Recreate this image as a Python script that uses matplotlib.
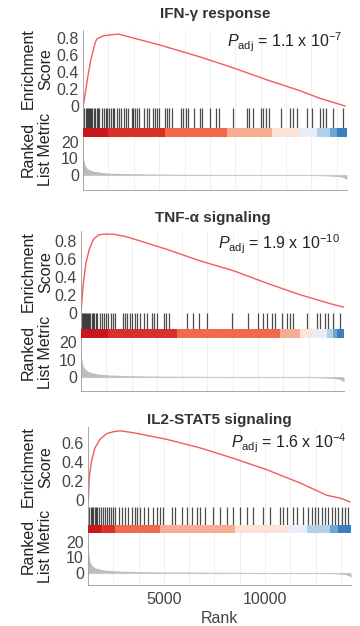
import numpy as np
import matplotlib
matplotlib.use('Agg')
import matplotlib.pyplot as plt

plt.rcParams['font.family'] = ['Liberation Sans', 'DejaVu Sans']
plt.rcParams['mathtext.fontset'] = 'custom'
plt.rcParams['mathtext.rm'] = 'Liberation Sans'
plt.rcParams['mathtext.it'] = 'Liberation Sans:italic'

# ---- data ----
titles = ['IFN-\u03b3 response', 'TNF-\u03b1 signaling', 'IL2-STAT5 signaling']
padj_mant = ['1.1', '1.9', '1.6']
padj_exp = ['-7', '-10', '-4']

# running enrichment score (rank, ES)
es1_rank = [1266, 1400, 1462, 1629, 1841, 1924, 2087, 2250, 2579, 2988, 5041, 7011, 8652, 10293, 11935, 12920, 14150]
es1_val = [0.00, 0.21, 0.31, 0.54, 0.74, 0.79, 0.81, 0.83, 0.84, 0.85, 0.72, 0.58, 0.45, 0.31, 0.18, 0.09, 0.00]
es2_rank = [1250, 1365, 1497, 1662, 1860, 2107, 2354, 2850, 3509, 5486, 7132, 8780, 10430, 12075, 13720, 14250]
es2_val = [0.00, 0.33, 0.56, 0.71, 0.82, 0.87, 0.88, 0.88, 0.85, 0.71, 0.58, 0.47, 0.33, 0.20, 0.09, 0.06]
es3_rank = [1265, 1316, 1433, 1596, 1843, 2172, 2500, 2832, 3490, 5140, 6786, 8430, 10080, 11730, 13050, 13710, 14200]
es3_val = [0.00, 0.25, 0.42, 0.55, 0.64, 0.70, 0.72, 0.73, 0.71, 0.64, 0.55, 0.44, 0.32, 0.18, 0.05, 0.02, -0.02]

# positions of gene-set members in the ranked list
hits1 = [1316, 1381, 1430, 1480, 1529, 1595, 1644, 1709, 1775, 1841, 1923, 1988, 2054, 2169, 2284,
         2382, 2448, 2530, 2628, 2711, 2793, 2940, 3022, 3104, 3268, 3367, 3482, 3646, 3728, 3810,
         3925, 4023, 4253, 4384, 4483, 4680, 4778, 4877, 4991, 5287, 5369, 5500, 5631, 6075, 6190,
         6304, 6436, 6715, 7010, 7125, 7502, 7798, 7929, 8651, 9340, 9439, 9603, 10013, 10128, 10259,
         10423, 10998, 11441, 11605, 11769, 12261, 12507, 12918, 13082, 13213, 13574, 14066]
hits2 = [1299, 1349, 1398, 1448, 1497, 1547, 1596, 1646, 1711, 1777, 1843, 1909, 1975, 2041, 2189,
         2272, 2387, 2486, 2601, 2717, 2816, 2931, 3343, 3442, 3541, 3673, 3788, 3920, 4035, 4167,
         4365, 4497, 4744, 4859, 4991, 5354, 5452, 5584, 6474, 6804, 7100, 7463, 8699, 9523, 10017,
         10264, 10429, 10677, 10842, 11171, 11418, 11583, 11748, 12407, 12901, 13066, 13313, 13478,
         13725, 14055]
hits3 = [1316, 1382, 1448, 1514, 1580, 1646, 1711, 1794, 1876, 1975, 2074, 2173, 2272, 2387, 2502,
         2601, 2799, 2931, 3079, 3244, 3409, 3574, 3689, 3821, 4019, 4233, 4480, 4645, 4810, 4942,
         5386, 5551, 5881, 6128, 6375, 6622, 6787, 7034, 7446, 7776, 8106, 8435, 8765, 9094, 9424,
         9918, 10248, 10742, 10907, 11072, 11402, 11566, 11896, 12143, 12308, 12473, 12638, 12802,
         12967, 13132, 13297, 13462, 13626, 13791, 13956, 14121]

# colour strip: segment edges (rank) and colours
band_colors = ['#c8161d', '#d9302b', '#f06a4e', '#f7ad91', '#fce3d8', '#e8edf7', '#b4d0e6', '#6ca6d4', '#3a80c0']
band1 = [1250, 2500, 5288, 8325, 10540, 11935, 12757, 13412, 13740, 14250]
band2 = [1250, 2600, 5980, 11087, 12075, 12734, 13393, 13700, 13887, 14250]
band3 = [1250, 1900, 2585, 4809, 8516, 11071, 12060, 13213, 13600, 14250]

# ranked list metric (rank, metric)
metric_rank = [1250, 1290, 1350, 1450, 1600, 1800, 2100, 2600, 3500, 5000, 8000, 11000, 13000, 13700, 14000, 14150, 14250]
metric1 = [14, 9, 6, 4, 3, 2.2, 1.6, 1.1, 0.8, 0.5, 0.3, 0.0, -0.4, -0.8, -1.2, -2.0, -3.0]
metric2 = [16, 10, 6.5, 4.5, 3.2, 2.4, 1.7, 1.2, 0.8, 0.5, 0.3, 0.0, -0.4, -0.8, -1.2, -2.0, -3.0]
metric3 = [20, 12, 7, 4.5, 3.2, 2.4, 1.7, 1.2, 0.8, 0.5, 0.3, 0.0, -0.4, -0.8, -1.2, -2.0, -3.0]

x_lim = (1250, 14250)
x_ticks = [5000, 10000]
grid_x = [2500, 3750, 5000, 6250, 7500, 8750, 10000, 11250, 12500, 13750]

# ---- layout (pixels) ----
W, H = 360, 626
fig = plt.figure(figsize=(W / 100, H / 100), dpi=100)


def box(l, t, r, b):
    return [l / W, 1 - b / H, (r - l) / W, (b - t) / H]


panels = [
    dict(title_y=14, left=83, right=347, es=(30, 108), es_ylim=(-0.024, 0.898), es_ticks=[0, 0.2, 0.4, 0.6, 0.8],
         hit=(108, 128), col=(128, 137), rk=(137, 190), rk_ylim=(-9.1, 23),
         es_r=es1_rank, es_v=es1_val, hits=hits1, band=band1, metric=metric1, padj_y=42),
    dict(title_y=218, left=81, right=344, es=(231, 313), es_ylim=(-0.005, 0.915), es_ticks=[0, 0.2, 0.4, 0.6, 0.8],
         hit=(313, 329), col=(329, 338), rk=(338, 391), rk_ylim=(-8, 22.3),
         es_r=es2_rank, es_v=es2_val, hits=hits2, band=band2, metric=metric2, padj_y=244),
    dict(title_y=420, left=88, right=351, es=(427, 507), es_ylim=(-0.074, 0.77), es_ticks=[0, 0.2, 0.4, 0.6],
         hit=(507, 525), col=(525, 533), rk=(533, 585), rk_ylim=(-7.9, 25.6),
         es_r=es3_rank, es_v=es3_val, hits=hits3, band=band3, metric=metric3, padj_y=443),
]

fs = 11.5
spine_c = '#9a9a9a'
grid_c = '#ececec'
txt_c = '#444444'

for i, p in enumerate(panels):
    L, R = p['left'], p['right']

    # enrichment score
    ax = fig.add_axes(box(L, p['es'][0], R, p['es'][1]))
    for g in grid_x:
        ax.axvline(g, color=grid_c, lw=0.6, zorder=0)
    ax.plot(p['es_r'], p['es_v'], color='#f45b5b', lw=1.0)
    ax.set_xlim(x_lim)
    ax.set_ylim(p['es_ylim'])
    ax.set_yticks(p['es_ticks'])
    ax.set_yticklabels(['0' if t == 0 else f'{t:.1f}' for t in p['es_ticks']])
    ax.set_xticks([])
    ax.tick_params(axis='y', length=0, pad=3, labelsize=fs, labelcolor=txt_c)
    for s in ['top', 'right', 'bottom']:
        ax.spines[s].set_visible(False)
    ax.spines['left'].set_color(spine_c)
    ax.spines['left'].set_linewidth(0.6)
    ax.text(0.985, (p['es'][1] - p['padj_y']) / (p['es'][1] - p['es'][0]),
            r'$P_{\rm adj}$' + f' = {padj_mant[i]} x 10' + r'$^{' + padj_exp[i] + r'}$',
            transform=ax.transAxes, ha='right', va='center', fontsize=fs, color='#222222')

    # title
    fig.text((L + R) / 2 / W, 1 - p['title_y'] / H, titles[i], ha='center', va='center',
             fontsize=11, fontweight='bold', color='#333333')

    # hits
    axh = fig.add_axes(box(L, p['hit'][0], R, p['hit'][1]))
    for g in grid_x:
        axh.axvline(g, color=grid_c, lw=0.6, zorder=0)
    axh.vlines(p['hits'], 0, 1, color='black', lw=0.9, alpha=0.7)
    axh.set_xlim(x_lim)
    axh.set_ylim(0, 1)
    axh.set_xticks([])
    axh.set_yticks([])
    for s in ['top', 'right', 'bottom']:
        axh.spines[s].set_visible(False)
    axh.spines['left'].set_color(spine_c)
    axh.spines['left'].set_linewidth(0.6)

    # colour strip
    axc = fig.add_axes(box(L, p['col'][0], R, p['col'][1]))
    b = p['band']
    for j in range(len(band_colors)):
        axc.axvspan(b[j], b[j + 1], color=band_colors[j], lw=0)
    axc.set_xlim(x_lim)
    axc.set_ylim(0, 1)
    axc.axis('off')

    # ranked list metric
    axr = fig.add_axes(box(L, p['rk'][0], R, p['rk'][1]))
    for g in grid_x:
        axr.axvline(g, color=grid_c, lw=0.6, zorder=0)
    axr.fill_between(metric_rank, 0, p['metric'], color='#bdbdbd', lw=0)
    axr.axhline(0, color='#c8c8c8', lw=0.8)
    axr.set_xlim(x_lim)
    axr.set_ylim(p['rk_ylim'])
    axr.set_yticks([0, 10, 20])
    axr.tick_params(axis='y', length=0, pad=3, labelsize=fs, labelcolor=txt_c)
    for s in ['top', 'right']:
        axr.spines[s].set_visible(False)
    for s in ['left', 'bottom']:
        axr.spines[s].set_color(spine_c)
        axr.spines[s].set_linewidth(0.6)
    if i == 2:
        axr.set_xticks(x_ticks)
        axr.set_xticklabels([str(t) for t in x_ticks])
        axr.tick_params(axis='x', length=0, pad=5, labelsize=fs, labelcolor=txt_c)
        axr.set_xlabel('Rank', fontsize=fs, color=txt_c, labelpad=3)
    else:
        axr.set_xticks([])

    # y labels
    es_mid = (p['es'][0] + p['es'][1]) / 2
    fig.text(37 / W, 1 - es_mid / H, 'Enrichment\nScore', rotation=90, ha='center', va='center',
             fontsize=fs, color='#222222', linespacing=1.15, multialignment='center')
    rk_mid = (p['hit'][0] + p['rk'][1]) / 2
    fig.text(37 / W, 1 - rk_mid / H, 'Ranked\nList Metric', rotation=90, ha='center', va='center',
             fontsize=fs, color='#222222', linespacing=1.15, multialignment='center')

fig.savefig('out.png', dpi=100)
